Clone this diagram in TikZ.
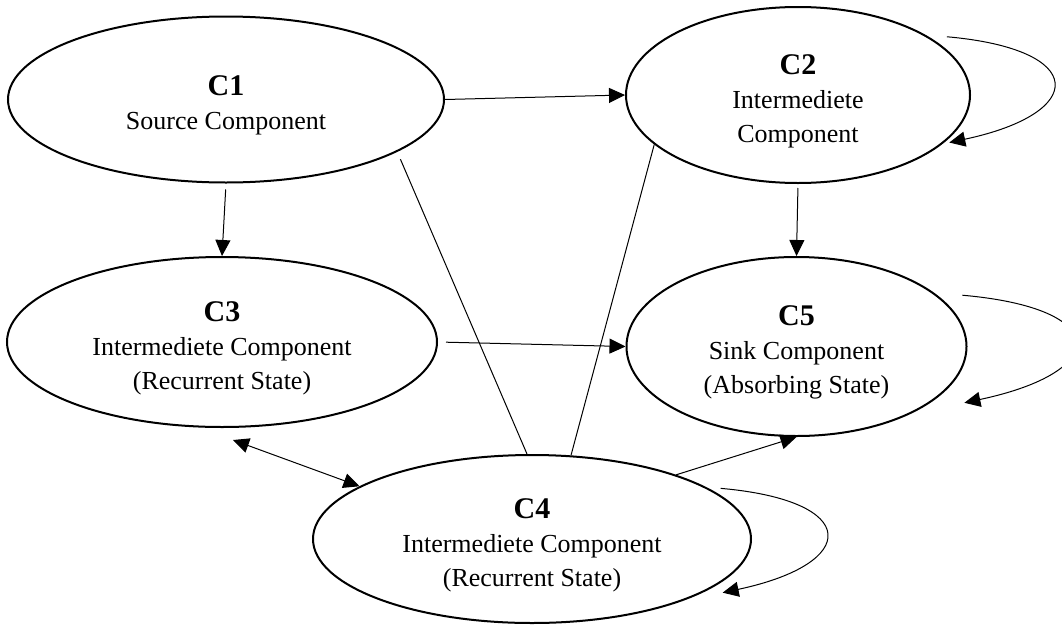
\documentclass[tikz,border=0pt]{standalone}
\usepackage{fontspec}
\setmainfont{Liberation Serif}
\usetikzlibrary{shapes.geometric,arrows.meta}
\tikzset{comp/.style={shape=ellipse,draw = black,line width=2pt,inner sep=0pt,align=center,font=\fontsize{26}{34}\selectfont}}
\tikzset{every edge/.style={draw = black, line width=1pt}}
\newcommand{\cname}[1]{{\fontsize{30}{34}\selectfont\bfseries\rule{0pt}{32pt}#1}}

\begin{document}
\begin{tikzpicture}[x=1pt,y=1pt,>={Triangle[length=16pt,width=15pt]}]
  \useasboundingbox (0,0) rectangle (1062,-624);
  \clip (0,0) rectangle (1062,-624);
  \node (C1) [comp,minimum width=436pt,minimum height=166pt] at (226,-99.5) {\cname{C1}\\Source Component};
  \node (C2) [comp,minimum width=344pt,minimum height=176pt] at (798,-95) {\cname{C2}\\Intermediete\\Component};
  \node (C3) [comp,minimum width=430pt,minimum height=170pt] at (222,-342) {\cname{C3}\\Intermediete Component\\(Recurrent State)};
  \node (C5) [comp,minimum width=340pt,minimum height=179pt] at (796.5,-346.5) {\cname{C5}\\Sink Component\\(Absorbing State)};
  \node (C4) [comp,minimum width=438pt,minimum height=168pt] at (532,-539) {\cname{C4}\\Intermediete Component\\(Recurrent State)};

  \path (C1.east) edge[->] (C2.west);
  \path (C1.south) edge[->,shorten <=6pt] (C3.north);

  \path (C2.south) edge[->,shorten <=4pt] (C5.north);
  \path (C3.east) edge[->,shorten <=8pt] (C5.west);

  \path (C1.-17) edge[shorten <=8pt] ([xshift=-5pt]C4.north);
  \path (C2.199) edge (C4.65);

  \path (C4.24) edge[->] (C5.south);
  \path ([shift={(11pt,-12pt)}]C3.south) edge[<->] (C4.163);

  % self loops
  \path ([xshift=18pt]C2.24) edge[->,out=-5,in=12,distance=142pt] ([xshift=5pt]C2.-18);
  \path ([xshift=25pt]C5.20) edge[->,out=-5,in=12,distance=150pt] ([shift={(27pt,-5pt)}]C5.-20);
  \path ([xshift=12pt]C4.16) edge[->,out=-5,in=12,distance=141pt] ([shift={(14pt,-3pt)}]C4.-16);
\end{tikzpicture}
\end{document}
